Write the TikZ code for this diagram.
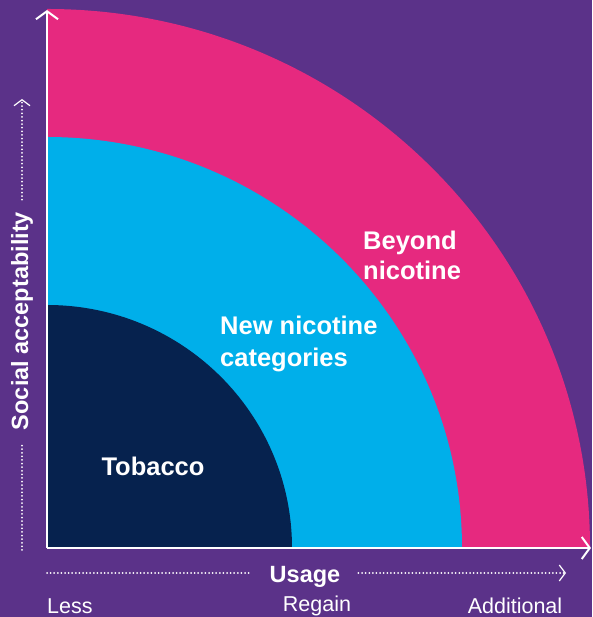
\documentclass[tikz,border=0pt]{standalone}
\usepackage{fontspec}
\setmainfont{Liberation Sans}
\usetikzlibrary{arrows.meta}
\definecolor{bgpurple}{HTML}{5B3289}
\definecolor{ringpink}{HTML}{E6297F}
\definecolor{ringcyan}{HTML}{00AFEA}
\definecolor{ringnavy}{HTML}{06224E}
\tikzset{
  axisline/.style={white, line width=2pt, -{Straight Barb[length=8pt,width=22pt,line width=2pt]}},
  dotline/.style={white, line width=2pt, line cap=round, dash pattern=on 0pt off 3.6pt},
  dotarrow/.style={dotline, -{Straight Barb[length=6pt,width=16pt,line width=1.2pt]}},
  ringlabel/.style={text=white, font=\fontsize{25.5}{30}\selectfont\bfseries, align=left, inner sep=0pt},
  axislabel/.style={text=white, font=\fontsize{23.5}{26}\selectfont\bfseries, inner sep=0pt},
  ticklabel/.style={text=white, font=\fontsize{21.5}{24}\selectfont, inner sep=0pt}
}
\begin{document}
\begin{tikzpicture}[x=1pt,y=1pt]
\fill[bgpurple] (0,0) rectangle (592,617);
\useasboundingbox (0,0) rectangle (592,617);
\coordinate (O) at (47,69);
% rings
\fill[ringpink] (O) -- ++(543,0) arc[start angle=0, end angle=90, x radius=543, y radius=539] -- cycle;
\fill[ringcyan] (O) -- ++(415,0) arc[start angle=0, end angle=90, x radius=415, y radius=411] -- cycle;
\fill[ringnavy] (O) -- ++(245,0) arc[start angle=0, end angle=90, x radius=245, y radius=243] -- cycle;
% axes
\coordinate (ytip) at (47,607);
\coordinate (xtip) at (591,69);
\draw[axisline] (O) -- (ytip);
\draw[axisline] (O) -- (xtip);
% ring labels
\node[ringlabel] (tob) at (153,151) {Tobacco};
\node[ringlabel, anchor=west, font=\fontsize{25.5}{32}\selectfont\bfseries] (nnc) at (220,273) {New nicotine\\categories};
\node[ringlabel, anchor=west] (bey) at (363,362) {Beyond\\nicotine};
% vertical axis label
\node[axislabel, rotate=90] (soc) at (22,296) {Social acceptability};
\coordinate (ybot) at (22,67);
\coordinate (ytop) at (22,518);
\draw[dotline] (ybot) -- ([yshift=-12pt]soc.west);
\draw[dotarrow] ([yshift=12pt]soc.east) -- (ytop);
% horizontal axis label
\node[axislabel] (usage) at (305,40) {Usage};
\coordinate (xl) at (47,44);
\coordinate (xr) at (566,44);
\draw[dotline] (xl) -- ([xshift=-18pt]usage.west|-xl);
\draw[dotarrow] ([xshift=18pt]usage.east|-xr) -- (xr);
% ticks
\node[ticklabel, anchor=west] (less) at (47,11) {Less};
\node[ticklabel] (regain) at (317,11) {Regain};
\node[ticklabel] (addl) at (515,11) {Additional};
\end{tikzpicture}
\end{document}
